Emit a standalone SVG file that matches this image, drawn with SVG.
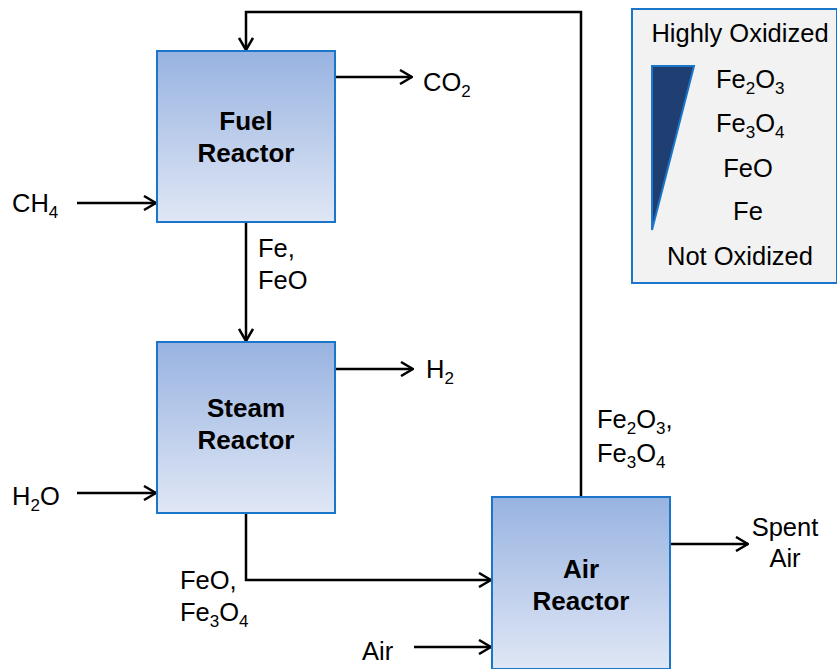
<svg xmlns="http://www.w3.org/2000/svg" width="837" height="669" viewBox="0 0 837 669">
<style>
text{font-family:"Liberation Sans",Arial,sans-serif;font-size:25.5px;fill:#000}
.b{font-weight:bold;font-size:26px}
.s{font-size:17px}
.box{fill:url(#g);stroke:#1b75c9;stroke-width:2}
.c{fill:none;stroke:#000;stroke-width:2.5}
</style>
<defs>
<linearGradient id="g" x1="0" y1="0" x2="0" y2="1">
<stop offset="0" stop-color="#98b3e1"/>
<stop offset="1" stop-color="#e0e7f5"/>
</linearGradient>
<marker id="a" viewBox="0 0 14 16" refX="13" refY="8" markerWidth="14" markerHeight="16" markerUnits="userSpaceOnUse" orient="auto">
<path d="M1,1 L13,8 L1,15" fill="none" stroke="#000" stroke-width="2.5"/>
</marker>
</defs>
<rect width="837" height="669" fill="#fff"/>
<g id="connectors">
<polyline class="c" points="581,497 581,12 246,12 246,50" marker-end="url(#a)"/>
<line class="c" x1="335" y1="77" x2="412" y2="77" marker-end="url(#a)"/>
<line class="c" x1="77" y1="203" x2="156" y2="203" marker-end="url(#a)"/>
<line class="c" x1="246" y1="222" x2="246" y2="341" marker-end="url(#a)"/>
<line class="c" x1="335" y1="369" x2="413" y2="369" marker-end="url(#a)"/>
<line class="c" x1="77" y1="493" x2="156" y2="493" marker-end="url(#a)"/>
<polyline class="c" points="246,513 246,580 491,580" marker-end="url(#a)"/>
<line class="c" x1="414" y1="647" x2="491" y2="647" marker-end="url(#a)"/>
<line class="c" x1="670" y1="544" x2="748" y2="544" marker-end="url(#a)"/>
</g>
<g id="fuel">
<rect class="box" x="157" y="51" width="178" height="171"/>
<text class="b" x="246" y="130" text-anchor="middle">Fuel</text>
<text class="b" x="246" y="162" text-anchor="middle">Reactor</text>
</g>
<g id="steam">
<rect class="box" x="157" y="342" width="178" height="171"/>
<text class="b" x="246" y="417" text-anchor="middle">Steam</text>
<text class="b" x="246" y="449" text-anchor="middle">Reactor</text>
</g>
<g id="air">
<rect class="box" x="492" y="497" width="178" height="172"/>
<text class="b" x="581" y="578" text-anchor="middle">Air</text>
<text class="b" x="581" y="610" text-anchor="middle">Reactor</text>
</g>
<g id="labels">
<text x="423" y="91">CO<tspan class="s" dy="6">2</tspan></text>
<text x="12" y="212">CH<tspan class="s" dy="6">4</tspan></text>
<text x="258" y="257">Fe,</text>
<text x="258" y="289">FeO</text>
<text x="426" y="378">H<tspan class="s" dy="6">2</tspan></text>
<text x="12" y="505">H<tspan class="s" dy="6">2</tspan><tspan dy="-6">O</tspan></text>
<text x="180" y="589">FeO,</text>
<text x="180" y="621">Fe<tspan class="s" dy="6">3</tspan><tspan dy="-6">O</tspan><tspan class="s" dy="6">4</tspan></text>
<text x="362" y="660">Air</text>
<text x="785" y="536" text-anchor="middle">Spent</text>
<text x="785" y="567" text-anchor="middle">Air</text>
<text x="597" y="428">Fe<tspan class="s" dy="6">2</tspan><tspan dy="-6">O</tspan><tspan class="s" dy="6">3</tspan><tspan dy="-6">,</tspan></text>
<text x="597" y="462">Fe<tspan class="s" dy="6">3</tspan><tspan dy="-6">O</tspan><tspan class="s" dy="6">4</tspan></text>
</g>
<g id="legend">
<rect x="632" y="9" width="205" height="274" fill="#f2f2f2" stroke="#1b75c9" stroke-width="2"/>
<polygon points="652,66 694,66 652,230" fill="#1f3f73" stroke="#1b75c9" stroke-width="2"/>
<text x="740" y="42" text-anchor="middle">Highly Oxidized</text>
<text x="716" y="88">Fe<tspan class="s" dy="6">2</tspan><tspan dy="-6">O</tspan><tspan class="s" dy="6">3</tspan></text>
<text x="716" y="132">Fe<tspan class="s" dy="6">3</tspan><tspan dy="-6">O</tspan><tspan class="s" dy="6">4</tspan></text>
<text x="748" y="177" text-anchor="middle">FeO</text>
<text x="748" y="220" text-anchor="middle">Fe</text>
<text x="740" y="265" text-anchor="middle">Not Oxidized</text>
</g>
</svg>
